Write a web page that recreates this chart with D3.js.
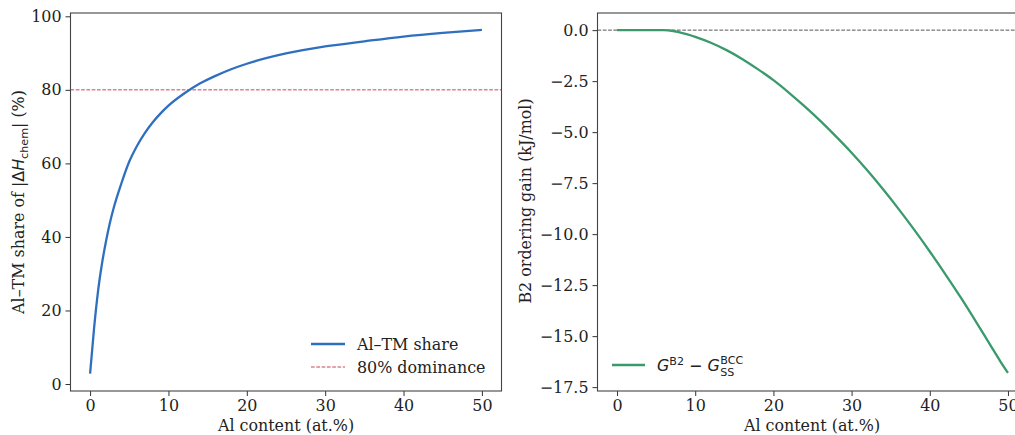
<!DOCTYPE html>
<html><head><meta charset="utf-8">
<script src="https://cdn.jsdelivr.net/npm/d3@7"></script>
<style>
body{margin:0;background:#fff;}
svg{display:block;font-family:"DejaVu Serif",serif;}
</style></head>
<body><svg id="c" width="1015" height="435"></svg>
<script>
// ---- data ----
const shareX = [0,0.5,1,1.5,2,2.5,3,4,5,6,7,8,9,10,12,14,16,18,20,25,30,35,40,45,50];
const shareY = [2.8,15,25,32.5,38.5,43.6,47.8,54.6,60.5,64.8,68.3,71.2,73.6,75.7,79,81.7,83.8,85.6,87.1,89.9,91.8,93.2,94.5,95.5,96.3];
const dominance = 80;
const gainX = [0,2,4,6,7,8,9,10,12,14,16,18,20,22,24,26,28,30,32,34,36,38,40,42,44,46,48,49,50];
const gainY = [0,0,0,0,-0.03,-0.11,-0.21,-0.33,-0.62,-0.98,-1.41,-1.91,-2.45,-3.07,-3.74,-4.45,-5.21,-6.01,-6.87,-7.79,-8.76,-9.78,-10.85,-11.97,-13.13,-14.35,-15.6,-16.22,-16.8];
const xTicks = [0,10,20,30,40,50];
const leftYTicks = [0,20,40,60,80,100];
const rightYTicks = [0,-2.5,-5,-7.5,-10,-12.5,-15,-17.5];

const svg = d3.select("#c");
const FS = 15.9;
const blue = "#2f6fc0", red = "#cc4554", green = "#3a9a6c";

function panel(x0, x1, y0, y1, xdom, ydom, yticks, yfmt){
  const x = d3.scaleLinear().domain(xdom).range([x0, x1]);
  const y = d3.scaleLinear().domain(ydom).range([y1, y0]);
  const g = svg.append("g");
  const clip = "clip" + Math.round(x0);
  svg.append("defs").append("clipPath").attr("id", clip)
    .append("rect").attr("x", x0).attr("y", y0).attr("width", x1-x0).attr("height", y1-y0);
  const xa = g.append("g").attr("transform", `translate(0,${y1})`)
    .call(d3.axisBottom(x).tickValues(xTicks).tickSize(5).tickPadding(4).tickFormat(d3.format("d")));
  const ya = g.append("g").attr("transform", `translate(${x0},0)`)
    .call(d3.axisLeft(y).tickValues(yticks).tickSize(5).tickPadding(4).tickFormat(yfmt));
  [xa, ya].forEach(a => {
    a.select(".domain").remove();
    a.selectAll("text").attr("font-family", "DejaVu Serif").attr("font-size", FS).attr("fill", "#222");
    a.selectAll("line").attr("stroke", "#333").attr("stroke-width", 1);
  });
  const plot = g.append("g").attr("clip-path", `url(#${clip})`);
  g.append("rect").attr("x", x0).attr("y", y0).attr("width", x1-x0).attr("height", y1-y0)
    .attr("fill", "none").attr("stroke", "#444").attr("stroke-width", 1.1);
  return {x, y, g, plot};
}
const yfmtR = v => (v < 0 ? "\u2212" : "") + Math.abs(v).toFixed(1);

// ---- left ----
const L = panel(70.5, 501.5, 13, 391, [-2.5, 52.5], [-1.9, 100.9], leftYTicks, d3.format("d"));
L.plot.append("line").attr("x1", L.x(-2.5)).attr("x2", L.x(52.5))
  .attr("y1", L.y(dominance)).attr("y2", L.y(dominance))
  .attr("stroke", red).attr("stroke-width", 1).attr("stroke-dasharray", "3.7,1.6");
L.plot.append("path").datum(shareX.map((d,i)=>[d, shareY[i]]))
  .attr("d", d3.line().x(d=>L.x(d[0])).y(d=>L.y(d[1])).curve(d3.curveMonotoneX))
  .attr("fill", "none").attr("stroke", blue).attr("stroke-width", 2.3);
// legend left
svg.append("line").attr("x1", 311).attr("x2", 345).attr("y1", 344).attr("y2", 344)
  .attr("stroke", blue).attr("stroke-width", 2.3);
svg.append("text").attr("x", 357).attr("y", 349.5).attr("font-size", FS).attr("fill", "#222").text("Al\u2013TM share");
svg.append("line").attr("x1", 311).attr("x2", 345).attr("y1", 367).attr("y2", 367)
  .attr("stroke", red).attr("stroke-width", 1).attr("stroke-dasharray", "3.7,1.6");
svg.append("text").attr("x", 357).attr("y", 372.5).attr("font-size", FS).attr("fill", "#222").text("80% dominance");
// labels left
svg.append("text").attr("x", 286).attr("y", 431).attr("text-anchor", "middle").attr("font-size", FS).attr("fill", "#222").text("Al content (at.%)");
const yl = svg.append("text").attr("transform", "translate(24,202) rotate(-90)").attr("text-anchor", "middle")
  .attr("font-size", FS).attr("fill", "#222");
yl.append("tspan").text("Al\u2013TM share of ");
yl.append("tspan").attr("font-family", "DejaVu Sans").text("|\u0394");
yl.append("tspan").attr("font-family", "DejaVu Sans").attr("font-style", "italic").text("H");
yl.append("tspan").attr("font-family", "DejaVu Sans").attr("font-size", FS*0.7).attr("dy", 3.5).text("chem");
yl.append("tspan").attr("font-family", "DejaVu Sans").attr("dy", -3.5).text("|");
yl.append("tspan").text(" (%)");

// ---- right ----
const R = panel(597.5, 1027.5, 13, 391, [-2.5, 52.5], [-17.69, 0.84], rightYTicks, yfmtR);
R.plot.append("line").attr("x1", R.x(-2.5)).attr("x2", R.x(52.5)).attr("y1", R.y(0)).attr("y2", R.y(0))
  .attr("stroke", "#555").attr("stroke-width", 1).attr("stroke-dasharray", "3.7,1.6");
R.plot.append("path").datum(gainX.map((d,i)=>[d, gainY[i]]))
  .attr("d", d3.line().x(d=>R.x(d[0])).y(d=>R.y(d[1])).curve(d3.curveMonotoneX))
  .attr("fill", "none").attr("stroke", green).attr("stroke-width", 2.3);
svg.append("text").attr("x", 812).attr("y", 431).attr("text-anchor", "middle").attr("font-size", FS).attr("fill", "#222").text("Al content (at.%)");
svg.append("text").attr("transform", "translate(531,201) rotate(-90)").attr("text-anchor", "middle")
  .attr("font-size", FS).attr("fill", "#222").text("B2 ordering gain (kJ/mol)");
// legend right
svg.append("line").attr("x1", 612).attr("x2", 645).attr("y1", 365).attr("y2", 365)
  .attr("stroke", green).attr("stroke-width", 2.3);
const lt = svg.append("text").attr("x", 657).attr("y", 371).attr("font-family", "DejaVu Sans").attr("font-size", FS).attr("fill", "#222");
lt.append("tspan").attr("font-style", "italic").text("G");
lt.append("tspan").attr("font-size", FS*0.7).attr("dy", -6.5).text("B2");
lt.append("tspan").attr("dy", 6.5).text(" \u2212 ");
lt.append("tspan").attr("font-style", "italic").text("G");
const w = lt.node().getComputedTextLength();
svg.append("text").attr("x", 657 + w + 0.5).attr("y", 364).attr("font-family", "DejaVu Sans").attr("font-size", FS*0.7).attr("fill", "#222").text("BCC");
svg.append("text").attr("x", 657 + w + 0.5).attr("y", 376).attr("font-family", "DejaVu Sans").attr("font-size", FS*0.7).attr("fill", "#222").text("SS");
</script></body></html>
